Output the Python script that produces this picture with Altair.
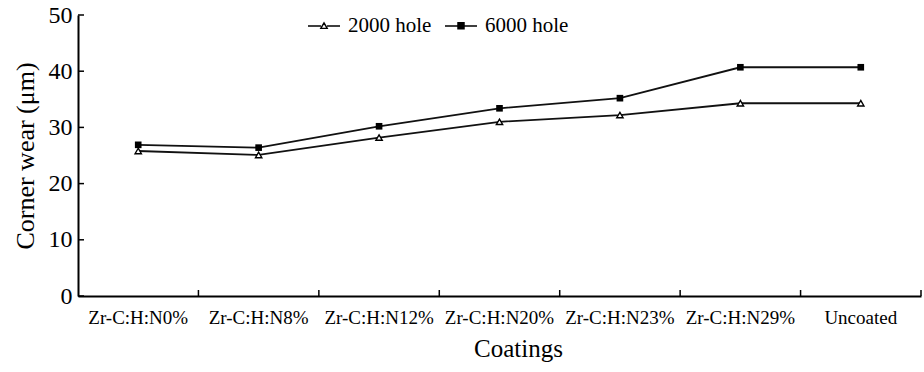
import altair as alt
import pandas as pd

coatings = ["Zr-C:H:N0%", "Zr-C:H:N8%", "Zr-C:H:N12%", "Zr-C:H:N20%",
            "Zr-C:H:N23%", "Zr-C:H:N29%", "Uncoated"]
wear_2000 = [25.8, 25.1, 28.2, 31.0, 32.2, 34.3, 34.3]
wear_6000 = [26.9, 26.4, 30.2, 33.4, 35.2, 40.7, 40.7]
series_names = ["2000 hole", "6000 hole"]
y_ticks = [0, 10, 20, 30, 40, 50]

long_df = pd.DataFrame({
    "coating": coatings * 2,
    "wear": wear_2000 + wear_6000,
    "series": [series_names[0]] * len(coatings) + [series_names[1]] * len(coatings),
})
df_2000 = long_df[long_df["series"] == series_names[0]]
df_6000 = long_df[long_df["series"] == series_names[1]]
cat_df = pd.DataFrame({"coating": coatings})
tick_df = pd.DataFrame({"wear": y_ticks})

W, H = 843, 281
FONT = "Liberation Serif"
TICK = 6

x_scale = alt.Scale(type="band", domain=coatings, paddingInner=0, paddingOuter=0)
x_axis = alt.Axis(title="Coatings", ticks=False, labelAngle=0, labelPadding=12,
                  labelFont=FONT, titleFont=FONT, labelColor="black", titleColor="black",
                  labelFontSize=19, titleFontSize=25, titleX=440, titlePadding=9,
                  titleFontWeight="normal", labelLimit=200)
y_scale = alt.Scale(domain=[0, 50], nice=False, zero=True)
y_axis = alt.Axis(title="Corner wear (μm)", values=y_ticks, ticks=False,
                  labelFont=FONT, titleFont=FONT, labelColor="black", titleColor="black",
                  titleFontWeight="normal",
                  labelPadding=6, labelFontSize=24, titleFontSize=26, titlePadding=10)

x_enc = alt.X("coating:N", sort=coatings, scale=x_scale, axis=x_axis)
y_enc = alt.Y("wear:Q", scale=y_scale, axis=y_axis)

lines = alt.Chart(long_df).mark_line(color="#111111", strokeWidth=1.8).encode(
    x=x_enc, y=y_enc, detail="series:N")

pts_2000 = alt.Chart(df_2000).mark_point(
    shape="triangle-up", filled=True, fill="white", stroke="black",
    strokeWidth=1.4, size=40, opacity=1).encode(x=x_enc, y=y_enc)

pts_6000 = alt.Chart(df_6000).mark_point(
    shape="square", filled=True, color="black", size=44, opacity=1).encode(x=x_enc, y=y_enc)

x_ticks = alt.Chart(cat_df).mark_rule(color="black", strokeWidth=1.5).encode(
    x=alt.X("coating:N", sort=coatings, scale=x_scale, axis=x_axis, bandPosition=1),
    y=alt.value(H), y2=alt.value(H - TICK))

y_tick_marks = alt.Chart(tick_df).mark_rule(color="black", strokeWidth=1.5).encode(
    y=y_enc, x=alt.value(0), x2=alt.value(TICK))

tri_path = "M-1,0H-0.19M0.19,0H1M0,-0.2L0.2,0.15L-0.2,0.15Z"
sq_path = "M-1,0H1M-0.19,-0.2H0.19V0.18H-0.19Z"

legend = alt.Legend(title=None, orient="none", legendX=229, legendY=-6,
                    direction="horizontal", labelFont=FONT, labelFontSize=21,
                    labelColor="black", labelOffset=7, columnPadding=10,
                    symbolSize=1024, symbolStrokeColor="black",
                    symbolStrokeWidth=1.4, padding=0)

legend_layer = alt.Chart(long_df).transform_filter("false").mark_point(
    filled=True, strokeWidth=1.4, size=1024, opacity=1).encode(
    x=x_enc, y=y_enc,
    shape=alt.Shape("series:N", scale=alt.Scale(domain=series_names, range=[tri_path, sq_path]),
                    legend=legend),
    fill=alt.Fill("series:N", scale=alt.Scale(domain=series_names, range=["white", "black"]),
                  legend=legend),
    stroke=alt.Stroke("series:N", scale=alt.Scale(domain=series_names, range=["black", "black"]),
                      legend=legend),
)

chart = alt.layer(lines, pts_2000, pts_6000, x_ticks, y_tick_marks, legend_layer).properties(
    width=W, height=H,
    autosize=alt.AutoSizeParams(type="none"),
    padding={"left": 78, "top": 15, "right": 3, "bottom": 76},
    background="white",
).configure_view(stroke=None).configure_axis(
    grid=False, domainColor="black", domainWidth=2, labelColor="black",
    titleColor="black", labelFont=FONT, titleFont=FONT, titleFontWeight="normal",
).configure_legend(labelFont=FONT, labelFontSize=21, labelColor="black")

chart.save("out.html", embed_options={"renderer": "svg", "actions": False})
